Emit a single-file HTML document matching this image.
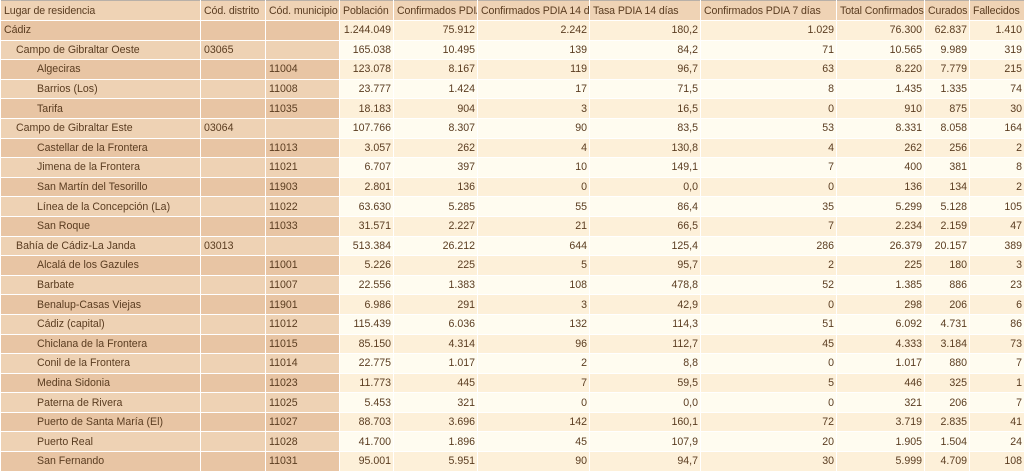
<!DOCTYPE html>
<html><head><meta charset="utf-8"><style>
body{margin:0;background:#fff;width:1024px;height:468px;overflow:hidden}
table{border-collapse:collapse;table-layout:fixed;width:1024px;font-family:"Liberation Sans",sans-serif;font-size:10.6px;color:#5a3c20;border-top:1px solid #b8b0a8}
td,th{height:19.6px;padding:0 2px 0 3px;border:1px solid #fff;border-top:none;white-space:nowrap;overflow:hidden;font-weight:normal;box-sizing:border-box}
th{background:#efd3b5;text-align:left;height:20px;letter-spacing:-0.1px}
tr:nth-child(odd) td{background:#fffcf0}
tr:nth-child(even) td{background:#fdf0d9}
tr:nth-child(odd) td.l{background:#eed2b4}
tr:nth-child(even) td.l{background:#e8c5a4}
td{text-align:right}
td.l{text-align:left}
.i1{padding-left:15px}.i2{padding-left:36px}
</style></head><body>
<table>
<colgroup><col style="width:200px"><col style="width:65px"><col style="width:74px"><col style="width:54px"><col style="width:84px"><col style="width:112px"><col style="width:111px"><col style="width:136px"><col style="width:88px"><col style="width:45px"><col style="width:55px"></colgroup>
<tr><th>Lugar de residencia</th><th>Cód. distrito</th><th>Cód. municipio</th><th>Población</th><th>Confirmados PDIA</th><th>Confirmados PDIA 14 días</th><th>Tasa PDIA 14 días</th><th>Confirmados PDIA 7 días</th><th>Total Confirmados</th><th>Curados</th><th>Fallecidos</th></tr>
<tr><td class="l">Cádiz</td><td class="l"></td><td class="l"></td><td>1.244.049</td><td>75.912</td><td>2.242</td><td>180,2</td><td>1.029</td><td>76.300</td><td>62.837</td><td>1.410</td></tr>
<tr><td class="l i1">Campo de Gibraltar Oeste</td><td class="l">03065</td><td class="l"></td><td>165.038</td><td>10.495</td><td>139</td><td>84,2</td><td>71</td><td>10.565</td><td>9.989</td><td>319</td></tr>
<tr><td class="l i2">Algeciras</td><td class="l"></td><td class="l">11004</td><td>123.078</td><td>8.167</td><td>119</td><td>96,7</td><td>63</td><td>8.220</td><td>7.779</td><td>215</td></tr>
<tr><td class="l i2">Barrios (Los)</td><td class="l"></td><td class="l">11008</td><td>23.777</td><td>1.424</td><td>17</td><td>71,5</td><td>8</td><td>1.435</td><td>1.335</td><td>74</td></tr>
<tr><td class="l i2">Tarifa</td><td class="l"></td><td class="l">11035</td><td>18.183</td><td>904</td><td>3</td><td>16,5</td><td>0</td><td>910</td><td>875</td><td>30</td></tr>
<tr><td class="l i1">Campo de Gibraltar Este</td><td class="l">03064</td><td class="l"></td><td>107.766</td><td>8.307</td><td>90</td><td>83,5</td><td>53</td><td>8.331</td><td>8.058</td><td>164</td></tr>
<tr><td class="l i2">Castellar de la Frontera</td><td class="l"></td><td class="l">11013</td><td>3.057</td><td>262</td><td>4</td><td>130,8</td><td>4</td><td>262</td><td>256</td><td>2</td></tr>
<tr><td class="l i2">Jimena de la Frontera</td><td class="l"></td><td class="l">11021</td><td>6.707</td><td>397</td><td>10</td><td>149,1</td><td>7</td><td>400</td><td>381</td><td>8</td></tr>
<tr><td class="l i2">San Martín del Tesorillo</td><td class="l"></td><td class="l">11903</td><td>2.801</td><td>136</td><td>0</td><td>0,0</td><td>0</td><td>136</td><td>134</td><td>2</td></tr>
<tr><td class="l i2">Línea de la Concepción (La)</td><td class="l"></td><td class="l">11022</td><td>63.630</td><td>5.285</td><td>55</td><td>86,4</td><td>35</td><td>5.299</td><td>5.128</td><td>105</td></tr>
<tr><td class="l i2">San Roque</td><td class="l"></td><td class="l">11033</td><td>31.571</td><td>2.227</td><td>21</td><td>66,5</td><td>7</td><td>2.234</td><td>2.159</td><td>47</td></tr>
<tr><td class="l i1">Bahía de Cádiz-La Janda</td><td class="l">03013</td><td class="l"></td><td>513.384</td><td>26.212</td><td>644</td><td>125,4</td><td>286</td><td>26.379</td><td>20.157</td><td>389</td></tr>
<tr><td class="l i2">Alcalá de los Gazules</td><td class="l"></td><td class="l">11001</td><td>5.226</td><td>225</td><td>5</td><td>95,7</td><td>2</td><td>225</td><td>180</td><td>3</td></tr>
<tr><td class="l i2">Barbate</td><td class="l"></td><td class="l">11007</td><td>22.556</td><td>1.383</td><td>108</td><td>478,8</td><td>52</td><td>1.385</td><td>886</td><td>23</td></tr>
<tr><td class="l i2">Benalup-Casas Viejas</td><td class="l"></td><td class="l">11901</td><td>6.986</td><td>291</td><td>3</td><td>42,9</td><td>0</td><td>298</td><td>206</td><td>6</td></tr>
<tr><td class="l i2">Cádiz (capital)</td><td class="l"></td><td class="l">11012</td><td>115.439</td><td>6.036</td><td>132</td><td>114,3</td><td>51</td><td>6.092</td><td>4.731</td><td>86</td></tr>
<tr><td class="l i2">Chiclana de la Frontera</td><td class="l"></td><td class="l">11015</td><td>85.150</td><td>4.314</td><td>96</td><td>112,7</td><td>45</td><td>4.333</td><td>3.184</td><td>73</td></tr>
<tr><td class="l i2">Conil de la Frontera</td><td class="l"></td><td class="l">11014</td><td>22.775</td><td>1.017</td><td>2</td><td>8,8</td><td>0</td><td>1.017</td><td>880</td><td>7</td></tr>
<tr><td class="l i2">Medina Sidonia</td><td class="l"></td><td class="l">11023</td><td>11.773</td><td>445</td><td>7</td><td>59,5</td><td>5</td><td>446</td><td>325</td><td>1</td></tr>
<tr><td class="l i2">Paterna de Rivera</td><td class="l"></td><td class="l">11025</td><td>5.453</td><td>321</td><td>0</td><td>0,0</td><td>0</td><td>321</td><td>206</td><td>7</td></tr>
<tr><td class="l i2">Puerto de Santa María (El)</td><td class="l"></td><td class="l">11027</td><td>88.703</td><td>3.696</td><td>142</td><td>160,1</td><td>72</td><td>3.719</td><td>2.835</td><td>41</td></tr>
<tr><td class="l i2">Puerto Real</td><td class="l"></td><td class="l">11028</td><td>41.700</td><td>1.896</td><td>45</td><td>107,9</td><td>20</td><td>1.905</td><td>1.504</td><td>24</td></tr>
<tr><td class="l i2">San Fernando</td><td class="l"></td><td class="l">11031</td><td>95.001</td><td>5.951</td><td>90</td><td>94,7</td><td>30</td><td>5.999</td><td>4.709</td><td>108</td></tr>
</table>
</body></html>
